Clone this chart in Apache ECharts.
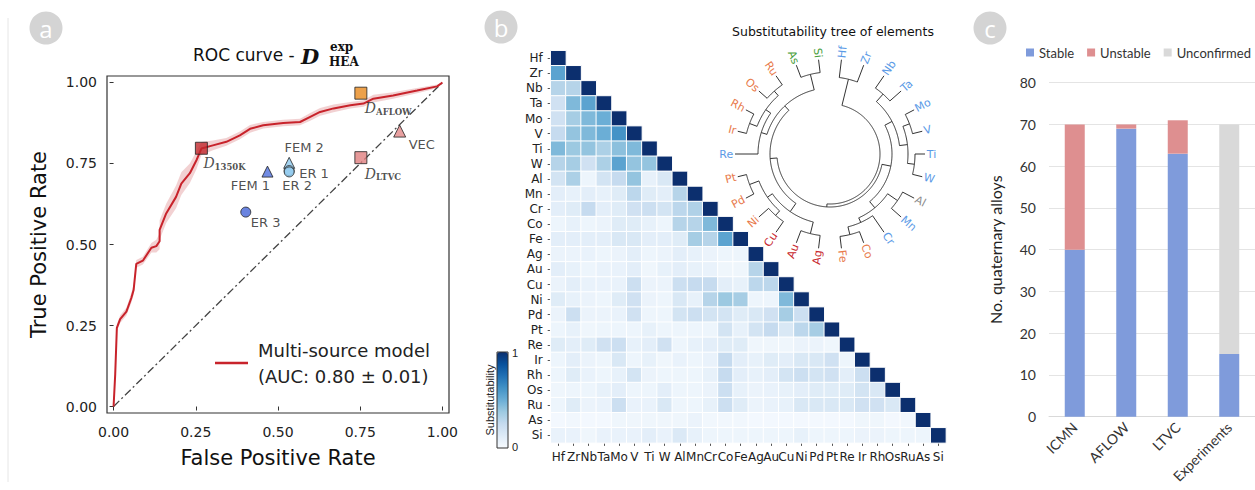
<!DOCTYPE html>
<html>
<head>
<meta charset="utf-8">
<script src="https://cdn.jsdelivr.net/npm/echarts@6/dist/echarts.min.js"></script>
<style>
html,body{margin:0;padding:0;background:#fff;}
#main{width:1255px;height:490px;}
</style>
</head>
<body>
<div id="main"></div>
<script>
// ---- panel a : ROC curve ----
var rocFpr = [0, 0.005, 0.01, 0.02, 0.039, 0.054, 0.061, 0.069, 0.089, 0.115, 0.13, 0.14, 0.14, 0.16, 0.19, 0.206,
  0.232, 0.252, 0.267, 0.302, 0.343, 0.384, 0.415, 0.455, 0.516, 0.567, 0.598, 0.628, 0.669, 0.72, 0.76, 0.79,
  0.85, 0.923, 0.984, 1.0];
var rocTpr = [0, 0.1, 0.243, 0.27, 0.293, 0.335, 0.36, 0.44, 0.45, 0.49, 0.495, 0.51, 0.545, 0.596, 0.647, 0.688,
  0.72, 0.76, 0.796, 0.806, 0.817, 0.837, 0.857, 0.868, 0.875, 0.878, 0.894, 0.909, 0.92, 0.93, 0.935, 0.95,
  0.96, 0.975, 0.988, 1.0];
var rocBand = [0, 0.005, 0.01, 0.012, 0.012, 0.015, 0.015, 0.012, 0.012, 0.015, 0.02, 0.025, 0.03, 0.03, 0.035, 0.035,
  0.03, 0.028, 0.02, 0.015, 0.012, 0.012, 0.012, 0.01, 0.01, 0.01, 0.012, 0.012, 0.012, 0.01, 0.01, 0.012,
  0.01, 0.008, 0.006, 0];
var rateTicks = [0, 0.25, 0.5, 0.75, 1];

var pointNames = ['1350K', 'AFLOW', 'LTVC', 'VEC', 'FEM 2', 'ER 1', 'ER 2', 'FEM 1', 'ER 3'];
var pointFpr = [0.267, 0.752, 0.752, 0.870, 0.534, 0.534, 0.534, 0.468, 0.402];
var pointTpr = [0.797, 0.967, 0.768, 0.850, 0.752, 0.728, 0.724, 0.725, 0.600];

// ---- panel b : substitutability ----
var elements = ['Hf', 'Zr', 'Nb', 'Ta', 'Mo', 'V', 'Ti', 'W', 'Al', 'Mn', 'Cr', 'Co', 'Fe', 'Ag', 'Au', 'Cu',
  'Ni', 'Pd', 'Pt', 'Re', 'Ir', 'Rh', 'Os', 'Ru', 'As', 'Si'];
// lower triangle, row i holds columns 0..i
var subRows = [
  [1],
  [0.55, 1],
  [0.30, 0.30, 1],
  [0.20, 0.45, 0.55, 1],
  [0.20, 0.35, 0.45, 0.50, 1],
  [0.25, 0.40, 0.45, 0.50, 0.62, 1],
  [0.45, 0.38, 0.40, 0.33, 0.42, 0.45, 1],
  [0.30, 0.35, 0.20, 0.33, 0.55, 0.40, 0.40, 1],
  [0.18, 0.33, 0.05, 0.18, 0.25, 0.40, 0.08, 0.15, 1],
  [0.10, 0.08, 0.10, 0.08, 0.12, 0.28, 0.12, 0.10, 0.30, 1],
  [0.10, 0.12, 0.25, 0.10, 0.12, 0.20, 0.22, 0.18, 0.28, 0.32, 1],
  [0.05, 0.08, 0.05, 0.06, 0.12, 0.12, 0.08, 0.05, 0.30, 0.30, 0.45, 1],
  [0.10, 0.10, 0.10, 0.10, 0.15, 0.15, 0.10, 0.10, 0.12, 0.35, 0.30, 0.55, 1],
  [0.06, 0.06, 0.07, 0.05, 0.06, 0.10, 0.05, 0.06, 0.10, 0.08, 0.06, 0.05, 0.05, 1],
  [0.10, 0.08, 0.05, 0.07, 0.07, 0.10, 0.04, 0.08, 0.10, 0.08, 0.07, 0.04, 0.04, 0.30, 1],
  [0.06, 0.10, 0.07, 0.07, 0.07, 0.22, 0.06, 0.06, 0.22, 0.25, 0.25, 0.10, 0.08, 0.28, 0.28, 1],
  [0.12, 0.08, 0.06, 0.05, 0.12, 0.20, 0.06, 0.05, 0.15, 0.08, 0.30, 0.38, 0.35, 0.05, 0.05, 0.45, 1],
  [0.06, 0.22, 0.06, 0.06, 0.07, 0.20, 0.05, 0.05, 0.18, 0.22, 0.18, 0.18, 0.12, 0.15, 0.20, 0.35, 0.22, 1],
  [0.05, 0.08, 0.04, 0.05, 0.05, 0.05, 0.08, 0.05, 0.05, 0.05, 0.05, 0.18, 0.08, 0.18, 0.25, 0.15, 0.28, 0.35, 1],
  [0.12, 0.10, 0.12, 0.20, 0.22, 0.08, 0.10, 0.20, 0.05, 0.08, 0.10, 0.12, 0.12, 0.04, 0.04, 0.04, 0.06, 0.06, 0.04, 1],
  [0.05, 0.10, 0.06, 0.05, 0.15, 0.05, 0.08, 0.04, 0.07, 0.05, 0.07, 0.25, 0.10, 0.08, 0.12, 0.10, 0.15, 0.15, 0.20, 0.05, 1],
  [0.05, 0.12, 0.07, 0.05, 0.08, 0.18, 0.06, 0.05, 0.05, 0.05, 0.08, 0.25, 0.10, 0.08, 0.10, 0.18, 0.22, 0.18, 0.20, 0.10, 0.22, 1],
  [0.04, 0.05, 0.05, 0.08, 0.10, 0.05, 0.05, 0.10, 0.05, 0.05, 0.06, 0.22, 0.08, 0.06, 0.07, 0.08, 0.10, 0.12, 0.12, 0.12, 0.18, 0.15, 1],
  [0.05, 0.12, 0.06, 0.07, 0.22, 0.07, 0.07, 0.15, 0.05, 0.05, 0.08, 0.22, 0.12, 0.06, 0.07, 0.08, 0.15, 0.15, 0.15, 0.15, 0.20, 0.20, 0.15, 1],
  [0.02, 0.03, 0.02, 0.02, 0.04, 0.04, 0.04, 0.04, 0.04, 0.06, 0.03, 0.03, 0.03, 0.02, 0.02, 0.02, 0.02, 0.02, 0.02, 0.02, 0.04, 0.04, 0.02, 0.03, 1],
  [0.07, 0.07, 0.04, 0.07, 0.07, 0.07, 0.10, 0.07, 0.14, 0.08, 0.05, 0.05, 0.05, 0.05, 0.05, 0.05, 0.08, 0.05, 0.05, 0.05, 0.06, 0.06, 0.05, 0.05, 0.05, 1]
];
// dendrogram linkage: [childA, childB, height]; ids >= 26 are earlier merges
var treeMerges = [
  [0, 1, 0.36], [2, 3, 0.30], [4, 5, 0.20], [6, 7, 0.20], [28, 29, 0.34], [27, 30, 0.50],
  [8, 9, 0.26], [11, 12, 0.24], [10, 33, 0.40], [32, 34, 0.50], [31, 35, 0.66],
  [13, 14, 0.26], [15, 16, 0.26], [17, 18, 0.18], [38, 39, 0.38], [37, 40, 0.50],
  [20, 21, 0.18], [22, 23, 0.22], [42, 43, 0.34], [19, 44, 0.46], [24, 25, 0.26],
  [45, 46, 0.58], [41, 47, 0.70], [36, 48, 0.84], [26, 49, 0.90]
];

// ---- panel c : alloys ----
var sources = ['ICMN', 'AFLOW', 'LTVC', 'Experiments'];
var stable = [40, 69, 63, 15];
var unstable = [30, 1, 8, 0];
var unconfirmed = [0, 0, 0, 55];

// styles
var leafColors = ['#5b9ae6', '#5b9ae6', '#5b9ae6', '#5b9ae6', '#5b9ae6', '#5b9ae6', '#5b9ae6', '#5b9ae6',
  '#8c8c8c', '#5b9ae6', '#5b9ae6', '#e87a4c', '#e87a4c', '#c8282e', '#c8282e', '#c8282e', '#e87a4c', '#e87a4c',
  '#e87a4c', '#5b9ae6', '#e87a4c', '#e87a4c', '#e87a4c', '#e87a4c', '#4a9e3c', '#4a9e3c'];
var pointStyles = [
  {symbol: 'rect', size: 12, color: '#c0282d', text: '{d|D}{s|1350K}', align: 'left', dx: 2, dy: 15},
  {symbol: 'rect', size: 12, color: '#e8891e', text: '{d|D}{s|AFLOW}', align: 'left', dx: 4, dy: 15},
  {symbol: 'rect', size: 12, color: '#e07f80', text: '{d|D}{s|LTVC}', align: 'left', dx: 4, dy: 16},
  {symbol: 'triangle', size: 12, color: '#e3898a', text: 'VEC', align: 'left', dx: 9, dy: 13},
  {symbol: 'triangle', size: 11, color: '#8ec9ee', text: 'FEM 2', align: 'center', dx: 15, dy: -15},
  {symbol: 'circle', size: 10, color: '#a6d4f2', text: 'ER 1', align: 'left', dx: 10, dy: 3},
  {symbol: 'circle', size: 10, color: '#8ec9ee', text: 'ER 2', align: 'center', dx: 8, dy: 14},
  {symbol: 'triangle', size: 11, color: '#4f6fdc', text: 'FEM 1', align: 'center', dx: -17, dy: 14},
  {symbol: 'circle', size: 10, color: '#4565d8', text: 'ER 3', align: 'left', dx: 5, dy: 10}
];
var blues = ['#f7fbff', '#deebf7', '#c6dbef', '#9ecae1', '#6baed6', '#4292c6', '#2171b5', '#08519c', '#0c2f6e'];

var heatData = [];
subRows.forEach(function (row, i) {
  row.forEach(function (v, j) { heatData.push([j, i, v]); });
});

var pointData = pointNames.map(function (n, i) {
  var s = pointStyles[i];
  return {
    name: n,
    value: [pointFpr[i], pointTpr[i]],
    symbol: s.symbol,
    symbolSize: s.size,
    itemStyle: {color: s.color, borderColor: '#222', borderWidth: 1},
    label: {
      show: true, position: 'inside', formatter: s.text, align: s.align, verticalAlign: 'middle',
      offset: [s.dx, s.dy], fontSize: 13, color: '#222', fontFamily: 'DejaVu Sans',
      rich: {
        d: {fontFamily: 'DejaVu Serif', fontStyle: 'italic', fontSize: 14, color: '#222'},
        s: {fontFamily: 'DejaVu Serif', fontWeight: 'bold', fontSize: 8.5, color: '#222', padding: [7, 0, 0, 0]}
      }
    }
  };
});

function renderBand(params, api) {
  if (params.dataIndex !== 0) return;
  var pts = [];
  for (var i = 0; i < rocFpr.length; i++) pts.push(api.coord([rocFpr[i], rocTpr[i] + rocBand[i]]));
  for (var k = rocFpr.length - 1; k >= 0; k--) pts.push(api.coord([rocFpr[k], rocTpr[k] - rocBand[k]]));
  return {type: 'polygon', shape: {points: pts}, style: {fill: 'rgba(205,70,75,0.25)'}};
}

function renderTree(params, api) {
  if (params.dataIndex !== 0) return;
  var n = elements.length, pos = [], hgt = [], children = [];
  for (var i = 0; i < n; i++) { pos[i] = i + 0.5; hgt[i] = 0; }
  treeMerges.forEach(function (m, k) {
    pos[n + k] = (pos[m[0]] + pos[m[1]]) / 2;
    hgt[n + k] = m[2];
  });
  treeMerges.forEach(function (m) {
    var a = m[0], b = m[1], h = m[2], pts = [api.coord([hgt[a], pos[a]])];
    for (var t = pos[a]; t < pos[b]; t += 0.05) pts.push(api.coord([h, t]));
    pts.push(api.coord([h, pos[b]]));
    pts.push(api.coord([hgt[b], pos[b]]));
    children.push({type: 'polyline', shape: {points: pts}, style: {stroke: '#333', lineWidth: 1, fill: null}});
  });
  elements.forEach(function (el, i) {
    var p = api.coord([-0.035, pos[i]]);
    var deg = pos[i] / n * 360;
    var right = deg < 180;
    children.push({
      type: 'text', x: p[0], y: p[1], rotation: (right ? 90 - deg : 270 - deg) * Math.PI / 180,
      style: {text: el, fill: leafColors[i], fontSize: 11, fontFamily: 'DejaVu Sans',
        align: right ? 'left' : 'right', verticalAlign: 'middle'}
    });
  });
  return {type: 'group', children: children};
}

function panelBadge(x, y, letter) {
  return [
    {type: 'circle', shape: {cx: x, cy: y, r: 16.5}, style: {fill: '#d4d4d4'}},
    {type: 'text', x: x, y: y, style: {text: letter, fill: '#fff', fontSize: 24, fontFamily: 'Open Sans',
      align: 'center', verticalAlign: 'middle'}}
  ];
}

var chart = echarts.init(document.getElementById('main'), null, {renderer: 'svg'});
var option = {
  animation: false,
  backgroundColor: '#fff',
  textStyle: {fontFamily: 'DejaVu Sans'},
  graphic: [].concat(
    [{type: 'line', shape: {x1: 8, y1: 18, x2: 8, y2: 482}, style: {stroke: '#e6e6e6', lineWidth: 1}}],
    panelBadge(46, 28, 'a'), panelBadge(501, 27, 'b'), panelBadge(990, 28, 'c'),
    [
      {type: 'text', x: 193, y: 55, style: {text: 'ROC curve - ', fontSize: 17, fill: '#111', fontFamily: 'DejaVu Sans', verticalAlign: 'middle'}},
      {type: 'text', x: 301, y: 56, style: {text: 'D', fontSize: 21, fill: '#111', fontFamily: 'DejaVu Serif', fontStyle: 'italic', fontWeight: 'bold', verticalAlign: 'middle'}},
      {type: 'text', x: 330, y: 47, style: {text: 'exp', fontSize: 12, fill: '#111', fontFamily: 'DejaVu Serif', fontWeight: 'bold', verticalAlign: 'middle'}},
      {type: 'text', x: 329, y: 62, style: {text: 'HEA', fontSize: 12, fill: '#111', fontFamily: 'DejaVu Serif', fontWeight: 'bold', verticalAlign: 'middle'}},
      {type: 'text', x: 833, y: 31, style: {text: 'Substitutability tree of elements', fontSize: 12.5, fill: '#111', fontFamily: 'DejaVu Sans', align: 'center', verticalAlign: 'middle'}},
      {type: 'rect', shape: {x: 497, y: 352, width: 11, height: 96}, style: {fill: 'none', stroke: '#333', lineWidth: 1}, z: 10},
      {type: 'text', x: 512, y: 353, style: {text: '1', fontSize: 11, fill: '#222', verticalAlign: 'middle'}},
      {type: 'text', x: 512, y: 447, style: {text: '0', fontSize: 11, fill: '#222', verticalAlign: 'middle'}},
      {type: 'text', x: 490, y: 400, rotation: Math.PI / 2, style: {text: 'Substitutability', fontSize: 11, fill: '#222', align: 'center', verticalAlign: 'middle'}}
    ]
  ),
  legend: [
    {
      data: ['Multi-source model'], left: 215, top: 332, padding: 0, icon: 'rect', itemWidth: 33, itemHeight: 2.5,
      formatter: function () { return 'Multi-source model\n(AUC: 0.80 \u00b1 0.01)'; },
      textStyle: {fontSize: 18, lineHeight: 26, color: '#222', fontFamily: 'DejaVu Sans', padding: [10, 0, 0, 5]}
    },
    {
      data: ['Stable', 'Unstable', 'Unconfirmed'], left: 1026, top: 46, width: 400, padding: 0, icon: 'rect',
      itemWidth: 8, itemHeight: 8, itemGap: 13,
      textStyle: {fontSize: 13, color: '#333', fontFamily: 'Lato'}
    }
  ],
  visualMap: {
    type: 'continuous', min: 0, max: 1, seriesIndex: 4, dimension: 2, calculable: false,
    left: 497, top: 352, itemWidth: 11, itemHeight: 96, padding: 0, showLabel: false,
    inRange: {color: blues}
  },
  grid: [
    {left: 107, top: 76, width: 342, height: 337, show: true, borderColor: '#333', borderWidth: 1.2},
    {left: 550.7, top: 50.7, width: 395.2, height: 392.2},
    {left: 1049, top: 82.7, width: 206, height: 334}
  ],
  polar: {center: [830, 154], radius: [45, 95]},
  angleAxis: {type: 'value', min: 0, max: elements.length, startAngle: 90, clockwise: true, show: false,
    axisLine: {show: false}, axisTick: {show: false}, axisLabel: {show: false}, splitLine: {show: false}},
  radiusAxis: {type: 'value', min: 0, max: 1, inverse: true, show: false,
    axisLine: {show: false}, axisTick: {show: false}, axisLabel: {show: false}, splitLine: {show: false}},
  xAxis: [
    {
      gridIndex: 0, type: 'value', min: -0.02, max: 1.02,
      axisLine: {show: false}, splitLine: {show: false},
      axisTick: {show: true, customValues: rateTicks, length: 4, lineStyle: {color: '#333'}},
      axisLabel: {customValues: rateTicks, formatter: function (v) { return v.toFixed(2); },
        fontSize: 14, color: '#222', margin: 12},
      name: 'False Positive Rate', nameLocation: 'middle', nameGap: 34,
      nameTextStyle: {fontSize: 21, color: '#111'}
    },
    {
      gridIndex: 1, type: 'category', data: elements,
      axisLine: {show: false}, splitLine: {show: false},
      axisTick: {show: true, alignWithLabel: true, length: 3, lineStyle: {color: '#555'}},
      axisLabel: {interval: 0, fontSize: 12, color: '#222', margin: 8}
    },
    {
      gridIndex: 2, type: 'category', data: sources,
      axisLine: {lineStyle: {color: '#d9d9d9'}}, axisTick: {show: false},
      axisLabel: {interval: 0, rotate: 45, fontSize: 14, color: '#333', fontFamily: 'Lato', margin: 8}
    }
  ],
  yAxis: [
    {
      gridIndex: 0, type: 'value', min: -0.02, max: 1.02,
      axisLine: {show: false}, splitLine: {show: false},
      axisTick: {show: true, customValues: rateTicks, length: 4, lineStyle: {color: '#333'}},
      axisLabel: {customValues: rateTicks, formatter: function (v) { return v.toFixed(2); },
        fontSize: 14, color: '#222', margin: 10},
      name: 'True Positive Rate', nameLocation: 'middle', nameGap: 58,
      nameTextStyle: {fontSize: 21, color: '#111'}
    },
    {
      gridIndex: 1, type: 'category', data: elements, inverse: true,
      axisLine: {show: false}, splitLine: {show: false},
      axisTick: {show: true, alignWithLabel: true, length: 3, lineStyle: {color: '#555'}},
      axisLabel: {interval: 0, fontSize: 12, color: '#222', margin: 8}
    },
    {
      gridIndex: 2, type: 'value', min: 0, max: 80, interval: 10,
      axisLine: {show: false}, axisTick: {show: false},
      splitLine: {lineStyle: {color: '#e4e4e4'}},
      axisLabel: {fontSize: 14, color: '#333', fontFamily: 'Lato', margin: 13},
      name: 'No. quaternary alloys', nameLocation: 'middle', nameGap: 46,
      nameTextStyle: {fontSize: 16, color: '#222', fontFamily: 'Lato'}
    }
  ],
  series: [
    {
      type: 'custom', name: 'band', xAxisIndex: 0, yAxisIndex: 0, renderItem: renderBand, silent: true, z: 1,
      data: rocFpr.map(function (x, i) { return [x, rocTpr[i]]; })
    },
    {
      type: 'line', name: 'chance', xAxisIndex: 0, yAxisIndex: 0, showSymbol: false, silent: true, z: 2,
      data: [[0, 0], [1, 1]], lineStyle: {color: '#444', width: 1.3, type: [8, 3, 2, 3]}
    },
    {
      type: 'line', name: 'Multi-source model', xAxisIndex: 0, yAxisIndex: 0, showSymbol: false, z: 3,
      color: '#c8232b', lineStyle: {color: '#c8232b', width: 2},
      data: rocFpr.map(function (x, i) { return [x, rocTpr[i]]; })
    },
    {
      type: 'scatter', name: 'baselines', xAxisIndex: 0, yAxisIndex: 0, z: 5, data: pointData
    },
    {
      type: 'heatmap', name: 'substitutability', xAxisIndex: 1, yAxisIndex: 1, data: heatData,
      itemStyle: {borderColor: '#fff', borderWidth: 1}
    },
    {
      type: 'custom', name: 'tree', coordinateSystem: 'polar', polarIndex: 0, renderItem: renderTree,
      silent: true, data: [[0, 0]]
    },
    {type: 'bar', name: 'Stable', stack: 'alloys', xAxisIndex: 2, yAxisIndex: 2, barWidth: 20, color: '#7f9bdb', data: stable},
    {type: 'bar', name: 'Unstable', stack: 'alloys', xAxisIndex: 2, yAxisIndex: 2, barWidth: 20, color: '#de8f90', data: unstable},
    {type: 'bar', name: 'Unconfirmed', stack: 'alloys', xAxisIndex: 2, yAxisIndex: 2, barWidth: 20, color: '#d9d9d9', data: unconfirmed}
  ]
};
chart.setOption(option);
</script>
</body>
</html>
